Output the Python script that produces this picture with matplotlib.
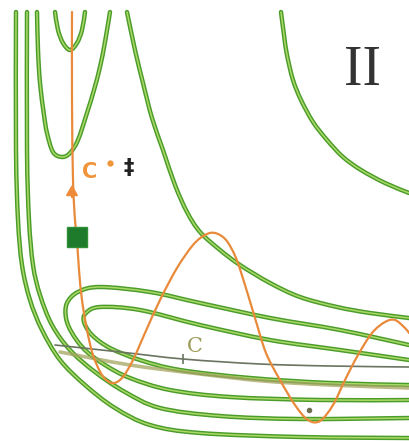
import matplotlib.pyplot as plt
from matplotlib.path import Path
from matplotlib.patches import PathPatch
import numpy as np

# sketch of a potential surface, drawn in image units (x right, y down)
small_u = [(55, 12), (58, 30), (63, 43), (70, 50), (77, 43), (82, 30), (85, 12)]
big_u = [(37, 12), (38, 50), (40, 83), (44, 115), (47, 133), (53, 152), (62, 157),
         (70, 153), (78, 140), (87, 113), (94, 90), (100, 67), (105, 42), (110, 12)]
ridge_left = [(127, 12), (135, 50), (143, 83), (152, 118), (163, 150), (175, 185),
              (187, 212), (200, 232), (220, 250), (240, 265), (270, 283), (300, 297),
              (337, 307), (370, 313), (409, 318)]
ridge_right = [(281, 12), (284, 35), (287, 55), (293, 80), (301, 100), (313, 122),
               (327, 140), (343, 157), (361, 170), (385, 183), (409, 193)]
loop_a = [(409, 345), (340, 330), (270, 318), (200, 303), (150, 292), (100, 287),
          (78, 292), (67, 303), (66, 318), (72, 333), (85, 350), (105, 365),
          (130, 378), (170, 390), (230, 397), (320, 400), (409, 400)]
loop_b = [(409, 360), (340, 350), (270, 340), (200, 325), (140, 310), (100, 307),
          (86, 313), (84, 322), (92, 335), (110, 348), (140, 360), (180, 370),
          (250, 378), (330, 383), (409, 385)]
outer_1 = [(16, 12), (16, 150), (18, 220), (22, 265), (30, 300), (42, 330),
           (60, 360), (85, 385), (115, 408), (150, 425), (200, 433), (300, 437),
           (409, 438)]
outer_2 = [(27, 12), (27, 150), (29, 220), (33, 265), (40, 295), (52, 325),
           (70, 350), (95, 372), (125, 392), (160, 408), (220, 416), (300, 419),
           (409, 418)]
contours = [small_u, big_u, ridge_left, ridge_right, loop_a, loop_b, outer_1, outer_2]

path_gray = [(55, 345), (120, 352), (183, 359), (260, 364), (330, 366), (409, 367)]
path_olive = [(60, 352), (130, 365), (200, 374), (263, 381), (330, 385), (409, 388)]

trajectory = [(72, 12), (72, 100), (73, 180), (75, 220), (77, 240), (79, 270),
              (82, 300), (87, 330), (93, 355), (102, 375), (112, 383), (122, 378),
              (133, 360), (145, 333), (160, 300), (177, 268), (193, 245), (205, 235),
              (215, 233), (226, 240), (236, 258), (245, 285), (255, 318), (266, 353),
              (280, 380), (295, 405), (308, 420), (320, 421), (333, 405), (345, 380),
              (358, 355), (372, 333), (385, 322), (395, 320), (405, 328), (409, 333)]
start_point = (77, 237)


def smooth_path(pts):
    # Catmull-Rom segments written as cubic Bezier path codes
    p = np.asarray(pts, dtype=float)
    verts = [p[0]]
    codes = [Path.MOVETO]
    for i in range(len(p) - 1):
        p0 = p[i - 1] if i > 0 else p[i]
        p3 = p[i + 2] if i + 2 < len(p) else p[i + 1]
        c1 = p[i] + (p[i + 1] - p0) / 6
        c2 = p[i + 1] - (p3 - p[i]) / 6
        verts += [c1, c2, p[i + 1]]
        codes += [Path.CURVE4] * 3
    return Path(verts, codes)


def draw(ax, pts, **kw):
    ax.add_patch(PathPatch(smooth_path(pts), fill=False, capstyle="round", **kw))


fig = plt.figure(figsize=(4.09, 4.41), dpi=100)
ax = fig.add_axes([0, 0, 1, 1])
ax.set_xlim(0, 409)
ax.set_ylim(441, 0)
ax.axis("off")

for c in contours:
    draw(ax, c, edgecolor="#4c9c2a", lw=3.2, zorder=2)
    draw(ax, c, edgecolor="#b4e070", lw=1.1, alpha=0.9, zorder=2.1)

draw(ax, path_olive, edgecolor="#a4a460", lw=2.6, alpha=0.75, zorder=3)
draw(ax, path_gray, edgecolor="#6a7460", lw=1.2, zorder=3.1)
ax.plot([183], [359], marker="|", ms=7, color="#6a7460", mew=1.2, zorder=3.2)

draw(ax, trajectory, edgecolor="#e98a3a", lw=1.6, zorder=4)
ax.annotate("", xy=(72, 182), xytext=(72, 200),
            arrowprops=dict(arrowstyle="-|>,head_width=0.35,head_length=0.6",
                            color="#ee8b3a", lw=1.5), zorder=5)
ax.plot([start_point[0]], [start_point[1]], marker="s", ms=15, color="#1e7b2c",
        mec="#2e8f36", zorder=6)
ax.plot([309], [410], marker="o", ms=3, color="#6f7050", zorder=6)

ax.text(82, 172, "C", color="#ef9438", fontsize=15, fontweight="bold",
        va="center", ha="left")
ax.plot([110], [163], marker="o", ms=3.5, color="#ef9438")
ax.text(124, 168, "‡", color="#222222", fontsize=15, fontweight="bold",
        va="center", ha="left")
ax.text(187, 346, "C", color="#9c9a58", fontsize=15, family="DejaVu Serif",
        va="center", ha="left")
ax.text(362, 71, "II", color="#333333", fontsize=40, family="Liberation Serif",
        va="center", ha="center")

fig.savefig("out.png", dpi=100)
